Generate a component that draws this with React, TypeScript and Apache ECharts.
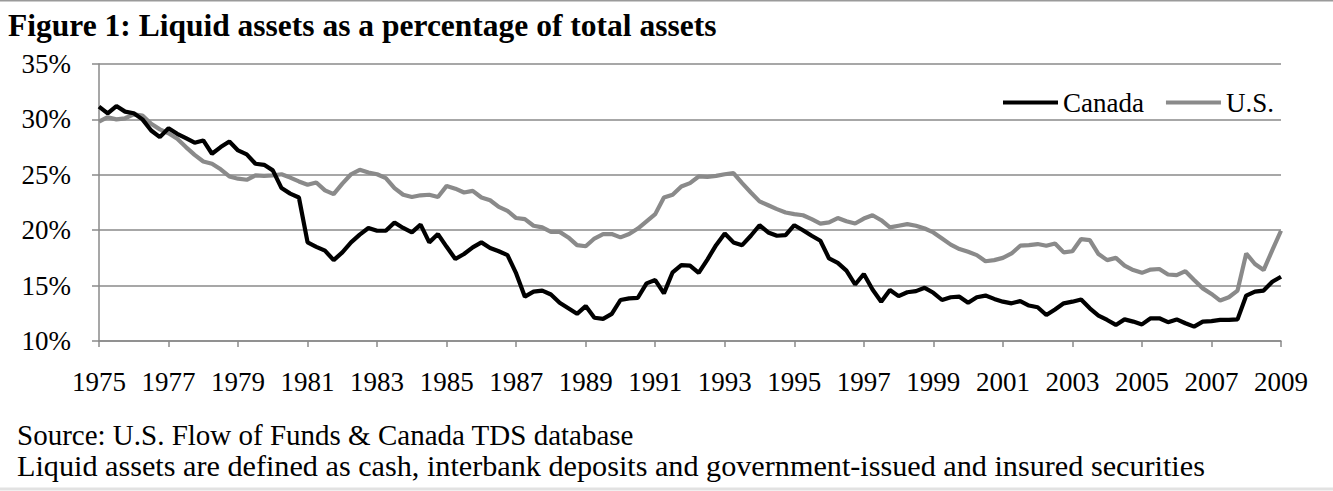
import React, { useEffect, useRef } from "react";
import * as echarts from "echarts";

// Quarterly observations, 1975Q1 .. 2009Q1
const startYear = 1975;
const quarterCount = 137;

const canada: number[] = [
  31.15, 30.55, 31.2, 30.7, 30.55, 30.0, 29.0, 28.4, 29.2, 28.7,
  28.3, 27.9, 28.1, 26.9, 27.5, 28.0, 27.2, 26.85, 26.0, 25.9,
  25.4, 23.8, 23.3, 22.95, 18.9, 18.5, 18.15, 17.3, 18.0, 18.9,
  19.6, 20.2, 19.95, 19.95, 20.7, 20.2, 19.8, 20.5, 18.9, 19.65,
  18.5, 17.4, 17.85, 18.45, 18.9, 18.4, 18.1, 17.75, 16.1, 14.0,
  14.45, 14.55, 14.2, 13.45, 12.95, 12.45, 13.15, 12.1, 12.0, 12.45,
  13.7, 13.85, 13.9, 15.2, 15.5, 14.3, 16.2, 16.85, 16.8, 16.15,
  17.35, 18.65, 19.7, 18.9, 18.65, 19.5, 20.45, 19.8, 19.5, 19.55,
  20.45, 20.0, 19.5, 19.05, 17.45, 17.05, 16.35, 15.1, 16.05, 14.65,
  13.55, 14.6, 14.05, 14.4, 14.5, 14.8, 14.35, 13.7, 13.95, 14.0,
  13.45, 13.95, 14.1, 13.8, 13.55, 13.4, 13.6, 13.2, 13.05, 12.35,
  12.85, 13.4, 13.55, 13.75, 12.95, 12.3, 11.9, 11.45, 11.95, 11.75,
  11.5, 12.05, 12.05, 11.7, 11.95, 11.6, 11.3, 11.75, 11.8, 11.9,
  11.9, 11.95, 14.1, 14.45, 14.55, 15.35, 15.8,
];

const us: number[] = [
  29.8, 30.2, 30.0, 30.1, 30.45, 30.35, 29.6, 29.1, 28.75, 28.25,
  27.5, 26.8, 26.2, 26.0, 25.5, 24.85, 24.65, 24.55, 24.95, 24.9,
  24.95, 25.05, 24.75, 24.4, 24.1, 24.3, 23.6, 23.25, 24.2, 25.05,
  25.45, 25.2, 25.05, 24.7, 23.8, 23.2, 23.0, 23.15, 23.2, 23.0,
  24.0, 23.75, 23.4, 23.55, 22.95, 22.7, 22.1, 21.75, 21.1, 21.0,
  20.4, 20.25, 19.85, 19.85, 19.35, 18.65, 18.55, 19.25, 19.65, 19.65,
  19.35, 19.65, 20.15, 20.8, 21.45, 22.95, 23.2, 23.95, 24.25, 24.85,
  24.8, 24.9, 25.05, 25.15, 24.25, 23.4, 22.6, 22.25, 21.9, 21.6,
  21.45, 21.35, 21.0, 20.6, 20.7, 21.1, 20.8, 20.6, 21.05, 21.35,
  20.9, 20.25, 20.4, 20.55, 20.4, 20.15, 19.8, 19.25, 18.7, 18.3,
  18.05, 17.75, 17.2, 17.3, 17.5, 17.9, 18.6, 18.65, 18.75, 18.6,
  18.8, 18.0, 18.1, 19.2, 19.1, 17.85, 17.3, 17.5, 16.8, 16.4,
  16.15, 16.45, 16.5, 16.0, 15.95, 16.3, 15.5, 14.75, 14.25, 13.65,
  13.95, 14.55, 17.9, 16.95, 16.4, 18.2, 19.95,
];

const seriesNames = ["Canada", "U.S."];
const yTicks = { min: 10, max: 35, interval: 5 };

const titleText = "Figure 1: Liquid assets as a percentage of total assets";
const footnotes = [
  "Source: U.S. Flow of Funds & Canada TDS database",
  "Liquid assets are defined as cash, interbank deposits and government-issued and insured securities",
];

const quarters: string[] = [];
for (let i = 0; i < quarterCount; i++) {
  const y = startYear + Math.floor(i / 4);
  quarters.push(`${y}Q${(i % 4) + 1}`);
}

const FONT = "'Liberation Serif', 'Times New Roman', serif";
const AXIS_GRAY = "#8a8a8a";

export default function App() {
  const ref = useRef<HTMLDivElement>(null);

  useEffect(() => {
    document.body.style.margin = "0";
    if (!ref.current) return;
    const chart = echarts.init(ref.current, undefined, { renderer: "svg" });
    chart.setOption({
      animation: false,
      backgroundColor: "#ffffff",
      textStyle: { fontFamily: FONT },
      grid: {
        left: 99,
        top: 64,
        width: 1182,
        height: 277,
        outerBoundsMode: "none",
      },
      legend: {
        left: 1003,
        top: 89,
        padding: 0,
        itemWidth: 55,
        itemHeight: 4,
        itemGap: 22,
        icon: "rect",
        data: seriesNames,
        textStyle: { fontFamily: FONT, fontSize: 27, color: "#000" },
      },
      xAxis: {
        type: "category",
        data: quarters,
        boundaryGap: false,
        axisLine: { lineStyle: { color: AXIS_GRAY, width: 1.5 } },
        axisTick: { show: true, interval: 7, length: 6, lineStyle: { color: AXIS_GRAY, width: 1.5 } },
        axisLabel: {
          interval: 7,
          margin: 27,
          fontSize: 27,
          fontFamily: FONT,
          color: "#000",
          formatter: (v: string) => v.slice(0, 4),
        },
        splitLine: { show: false },
      },
      yAxis: {
        type: "value",
        min: yTicks.min,
        max: yTicks.max,
        interval: yTicks.interval,
        axisLine: { show: true, lineStyle: { color: AXIS_GRAY, width: 1.5 } },
        axisTick: { show: true, length: 7, lineStyle: { color: AXIS_GRAY, width: 1.5 } },
        axisLabel: {
          margin: 28,
          fontSize: 27,
          fontFamily: FONT,
          color: "#000",
          formatter: "{value}%",
        },
        splitLine: { show: true, lineStyle: { color: AXIS_GRAY, width: 1.5 } },
      },
      series: [
        {
          name: seriesNames[0],
          type: "line",
          data: canada,
          symbol: "none",
          color: "#000000",
          lineStyle: { color: "#000000", width: 4.2 },
          z: 3,
        },
        {
          name: seriesNames[1],
          type: "line",
          data: us,
          symbol: "none",
          color: "#8a8a8a",
          lineStyle: { color: "#8a8a8a", width: 4.2 },
          z: 2,
        },
      ],
      graphic: [
        {
          type: "line",
          shape: { x1: 0, y1: 0.5, x2: 1333, y2: 0.5 },
          style: { stroke: "#9a9a9a", lineWidth: 2 },
        },
        {
          type: "line",
          shape: { x1: 0, y1: 489, x2: 1333, y2: 489 },
          style: { stroke: "#e2e2e2", lineWidth: 3 },
        },
        {
          type: "text",
          left: 8,
          top: 9,
          style: {
            text: titleText,
            fontFamily: FONT,
            fontSize: 31.5,
            fontWeight: "bold",
            fill: "#000",
          },
        },
        {
          type: "text",
          left: 17,
          top: 420,
          style: { text: footnotes[0], fontFamily: FONT, fontSize: 29, fill: "#000" },
        },
        {
          type: "text",
          left: 17,
          top: 451,
          style: { text: footnotes[1], fontFamily: FONT, fontSize: 30.2, fill: "#000" },
        },
      ],
    });
    return () => chart.dispose();
  }, []);

  return <div ref={ref} style={{ width: 1333, height: 491 }} />;
}
